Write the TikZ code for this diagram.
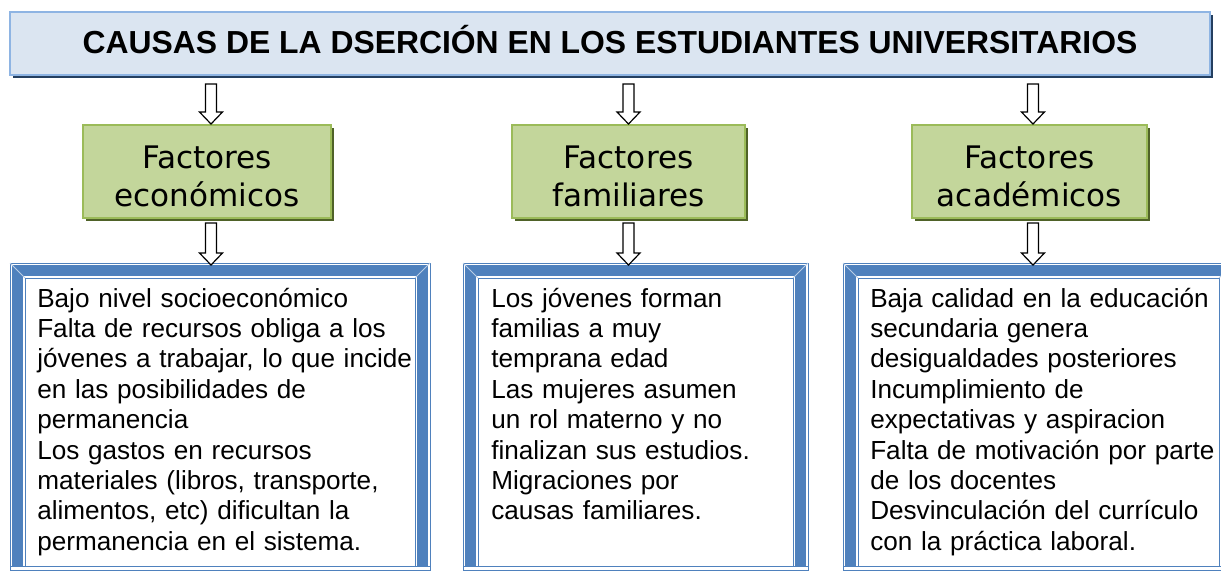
\documentclass[tikz,border=0pt]{standalone}
\usepackage{fontspec}
\setmainfont{Liberation Sans}
\newfontfamily\factorfont{DejaVu Sans}
\usetikzlibrary{positioning,calc,shadows}
\definecolor{ctitle}{HTML}{DBE5F1}
\definecolor{ctitleline}{HTML}{8EB4E3}
\definecolor{cnavy}{HTML}{243F60}
\definecolor{cgreen}{HTML}{C3D69B}
\definecolor{cgreenline}{HTML}{9BBB59}
\definecolor{cgreendark}{HTML}{4F6228}
\definecolor{cframe}{HTML}{4F81BD}

% blue frame round an empty box node
\newcommand{\bandframe}[1]{%
  \draw[frameline] (#1.south west) rectangle (#1.north east);
  \draw[frameline] ($(#1.south west)+(0,-4)$) -- ($(#1.south east)+(0,-4)$);
  \draw[frameband] ($(#1.south west)+(7.5,-4)$) -- ($(#1.north west)+(7.5,7.5)$)
    -- ($(#1.north east)+(-7.5,7.5)$) -- ($(#1.south east)+(-7.5,-4)$);
  \draw[frameline] ($(#1.south west)+(15,-4)$) rectangle ($(#1.north east)+(-15,15)$);
  \draw[white!60!cframe, line width=0.6pt] (#1.north west) -- ++(15,15);
  \draw[white!60!cframe, line width=0.6pt] (#1.north east) -- ++(-15,15);
}
\newcommand{\lowtop}{\rule{0pt}{24.5pt}}

\begin{document}
\begin{tikzpicture}[x=0.75pt, y=-0.75pt,
    titlebox/.style={draw=ctitleline, line width=1.5pt, fill=ctitle,
      drop shadow={shadow xshift=2.5pt, shadow yshift=-2.5pt, fill=cnavy, opacity=1},
      minimum width=900pt, minimum height=47.25pt, inner sep=0pt,
      font=\bfseries\fontsize{23.9pt}{28pt}\selectfont, text height=17.25pt, text depth=3pt},
    factorbox/.style={draw=cgreenline, line width=1.5pt, fill=cgreen,
      drop shadow={shadow xshift=2.5pt, shadow yshift=-2.5pt, fill=cgreendark, opacity=1},
      minimum height=69.75pt, inner sep=0pt, align=center,
      font=\factorfont\fontsize{23.3pt}{28pt}\selectfont},
    bluebox/.style={minimum height=230.25pt, inner sep=0pt, outer sep=0pt, anchor=north west},
    boxtext/.style={anchor=base west, inner sep=0pt, text width=300pt, align=left,
      font=\fontsize{19.6pt}{22.8pt}\selectfont},
    frameline/.style={draw=cframe, line width=0.75pt},
    frameband/.style={draw=cframe, line width=8.25pt},
    arrowbody/.style={draw=black, line width=0.9pt, fill=white},
    hollow/.style={to path={
      ($(\tikztostart)+(-5.5,0)$) -- ($(\tikztostart)+(5.5,0)$)
      -- ($(\tikztotarget)+(5.5,-12)$) -- ($(\tikztotarget)+(11.5,-12)$)
      -- (\tikztotarget) -- ($(\tikztotarget)+(-11.5,-12)$)
      -- ($(\tikztotarget)+(-5.5,-12)$) -- cycle}}
  ]
  \useasboundingbox (0,0) rectangle (1221,571);
  \clip (0,0) rectangle (1221,571);

  \node[titlebox] (title) at (610,43.5) {CAUSAS DE LA DSERCIÓN EN LOS ESTUDIANTES UNIVERSITARIOS};

  \node[factorbox, minimum width=186pt] (eco) at (207,171.5) {\lowtop Factores\\económicos};
  \node[factorbox, minimum width=174.75pt] (fam) at (628.5,171.5) {\lowtop Factores\\familiares};
  \node[factorbox, minimum width=176.25pt] (aca) at (1029.5,171.5) {\lowtop Factores\\académicos};

  \node[bluebox, minimum width=315pt] (box1) at (10,263) {};
  \node[bluebox, minimum width=258.75pt] (box2) at (463,263) {};
  \node[bluebox, minimum width=293.25pt] (box3) at (843,263) {};
  \bandframe{box1}
  \bandframe{box2}
  \bandframe{box3}

  \node[boxtext] (txt1) at ([shift={(27,44)}]box1.north west)
    {Bajo nivel socioeconómico\\Falta de recursos obliga a los\\jóvenes a trabajar, lo que incide\\en las posibilidades de\\permanencia\\Los gastos en recursos\\materiales (libros, transporte,\\alimentos, etc) dificultan la\\permanencia en el sistema.};
  \node[boxtext] (txt2) at ([shift={(28,44)}]box2.north west)
    {Los jóvenes forman\\familias a muy\\temprana edad\\Las mujeres asumen\\un rol materno y no\\finalizan sus estudios.\\Migraciones por\\causas familiares.};
  \node[boxtext] (txt3) at ([shift={(27,44)}]box3.north west)
    {Baja calidad en la educación\\secundaria genera\\desigualdades posteriores\\Incumplimiento de\\expectativas y aspiracion\\Falta de motivación por parte\\de los docentes\\Desvinculación del currículo\\con la práctica laboral.};

  % arrows
  \coordinate (a1) at ([xshift=3pt]eco.north);
  \coordinate (a2) at (fam.north);
  \coordinate (a3) at ([xshift=2.6pt]aca.north);
  \draw[arrowbody] ([yshift=-6pt]title.south -| a1) to[hollow] (a1);
  \draw[arrowbody] ([yshift=-6pt]title.south -| a2) to[hollow] (a2);
  \draw[arrowbody] ([yshift=-6pt]title.south -| a3) to[hollow] (a3);
  \draw[arrowbody] ([yshift=-3pt]eco.south -| a1) to[hollow] ([yshift=-1.5pt]box1.north -| a1);
  \draw[arrowbody] ([yshift=-3pt]fam.south -| a2) to[hollow] ([yshift=-1.5pt]box2.north -| a2);
  \draw[arrowbody] ([yshift=-3pt]aca.south -| a3) to[hollow] ([yshift=-1.5pt]box3.north -| a3);
\end{tikzpicture}
\end{document}
